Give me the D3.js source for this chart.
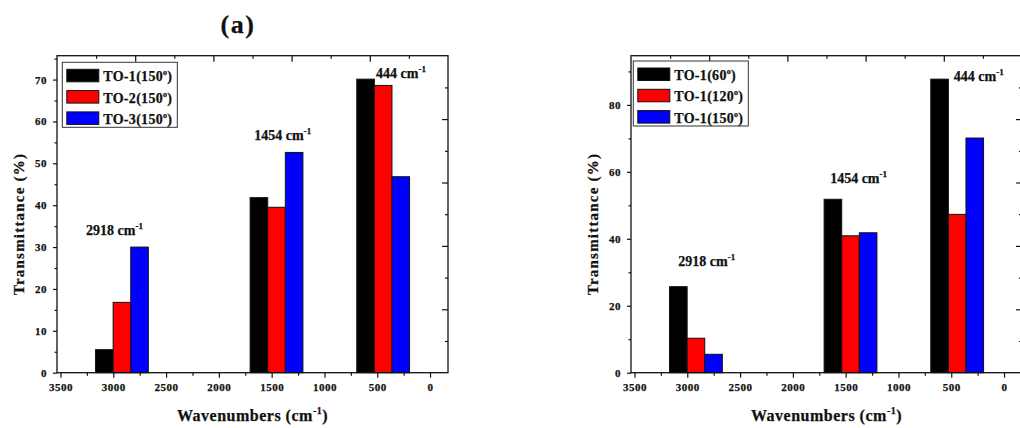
<!DOCTYPE html>
<html>
<head>
<meta charset="utf-8">
<script src="https://cdn.jsdelivr.net/npm/d3@7"></script>
<style>
  body { margin: 0; background: #fff; }
  svg text { font-family: "Liberation Serif", "Times New Roman", serif; font-weight: bold; fill: #111; stroke: #111; stroke-width: 0.25px; }
</style>
</head>
<body>
<svg id="fig" width="1020" height="428"></svg>
<script>
// peak positions (cm-1) and tick values
const wavenumbers = [2918, 1454, 444];
const peakLabels = ["2918", "1454", "444"];
const xTicks = [3500, 3000, 2500, 2000, 1500, 1000, 500, 0];
const xMinor = [3250, 2750, 2250, 1750, 1250, 750, 250];

// panel (a): samples at 150 deg
const seriesA = ["TO-1(150°)", "TO-2(150°)", "TO-3(150°)"];
const valuesA = [
  [5.5, 41.8, 70.1],
  [16.8, 39.5, 68.6],
  [30.0, 52.6, 46.8]
];
const yTicksA = [0, 10, 20, 30, 40, 50, 60, 70];
const yMinorA = [5, 15, 25, 35, 45, 55, 65, 75];

// panel (b): TO-1 at different angles
const seriesB = ["TO-1(60°)", "TO-1(120°)", "TO-1(150°)"];
const valuesB = [
  [25.7, 51.8, 87.7],
  [10.3, 40.9, 47.3],
  [5.5, 41.8, 70.1]
];
const yTicksB = [0, 20, 40, 60, 80];
const yMinorB = [10, 30, 50, 70, 90];

const colors = ["#000000", "#ff0000", "#0000ff"];

const svg = d3.select("#fig");

// "(a)" heading
svg.append("text")
  .attr("x", 238).attr("y", 33)
  .attr("text-anchor", "middle")
  .style("font-size", "26px")
  .style("letter-spacing", "1.5px")
  .text("(a)");

// text with degree shown as superscript o
function degreeText(sel, name) {
  const parts = name.split("°");
  sel.append("tspan").text(parts[0]);
  sel.append("tspan").attr("dy", -6).style("font-size", "8px").text("o");
  sel.append("tspan").attr("dy", 6).text(parts[1]);
}

function drawPanel(cfg) {
  const g = svg.append("g");
  const x = d3.scaleLinear().domain([3533, -170]).range([cfg.x0, cfg.x1]);
  const y = d3.scaleLinear().domain([0, cfg.ymax]).range([cfg.y1, cfg.y0]);
  const barW = 500 / 3; // width of one bar in cm-1

  // bars
  cfg.values.forEach((vals, s) => {
    g.selectAll(null)
      .data(vals)
      .enter().append("rect")
      .attr("x", (d, i) => x(wavenumbers[i] + barW * 1.5 - barW * s))
      .attr("width", x(0) - x(barW))
      .attr("y", d => y(d))
      .attr("height", d => y(0) - y(d))
      .attr("fill", colors[s])
      .attr("stroke", "#111")
      .attr("stroke-width", 1);
  });

  // bottom axis
  g.append("g").attr("transform", `translate(0,${cfg.y1})`)
    .call(d3.axisBottom(x).tickValues(xTicks).tickSize(5).tickPadding(6).tickFormat(d3.format("d")));
  g.append("g").attr("transform", `translate(0,${cfg.y1})`)
    .call(d3.axisBottom(x).tickValues(xMinor).tickSize(3).tickFormat(""));

  // left axis
  g.append("g").attr("transform", `translate(${cfg.x0},0)`)
    .call(d3.axisLeft(y).tickValues(cfg.yTicks).tickSize(4).tickPadding(6).tickFormat(d3.format("d")));
  g.append("g").attr("transform", `translate(${cfg.x0},0)`)
    .call(d3.axisLeft(y).tickValues(cfg.yMinor.filter(v => v <= cfg.ymax)).tickSize(2.5).tickFormat(""));

  // top and right axes (inward ticks, no labels)
  const xs = d3.scaleLinear().domain([0, 1]).range([cfg.x0, cfg.x1]);
  const ys = d3.scaleLinear().domain([0, 1]).range([cfg.y1, cfg.y0]);
  g.append("g").attr("transform", `translate(0,${cfg.y0})`)
    .call(d3.axisBottom(xs).tickValues([0.2, 0.4, 0.6, 0.8]).tickSize(6).tickFormat(""));
  g.append("g").attr("transform", `translate(0,${cfg.y0})`)
    .call(d3.axisBottom(xs).tickValues([0.1, 0.3, 0.5, 0.7, 0.9]).tickSize(3).tickFormat(""));
  g.append("g").attr("transform", `translate(${cfg.x1},0)`)
    .call(d3.axisLeft(ys).tickValues([0.2, 0.4, 0.6, 0.8]).tickSize(6).tickFormat(""));
  g.append("g").attr("transform", `translate(${cfg.x1},0)`)
    .call(d3.axisLeft(ys).tickValues([0.1, 0.3, 0.5, 0.7, 0.9]).tickSize(3).tickFormat(""));

  g.selectAll(".domain").remove();
  g.selectAll(".tick line").attr("stroke", "#111").attr("stroke-width", 1.2);
  g.selectAll(".tick text")
    .style("font-size", "11px")
    .style("letter-spacing", "0.5px")
    .style("font-family", "'Liberation Serif', serif")
    .style("font-weight", "bold")
    .attr("fill", "#111");

  // frame
  g.append("rect")
    .attr("x", cfg.x0).attr("y", cfg.y0)
    .attr("width", cfg.x1 - cfg.x0).attr("height", cfg.y1 - cfg.y0)
    .attr("fill", "none").attr("stroke", "#111").attr("stroke-width", 1.3);

  // peak annotations
  cfg.annot.forEach((a, i) => {
    const t = g.append("text")
      .attr("x", x(a[0])).attr("y", y(a[1]))
      .style("font-size", "14px");
    t.append("tspan").text(peakLabels[i] + " cm");
    t.append("tspan").attr("dy", -6).style("font-size", "9px").text("-1");
  });

  // legend
  const lg = g.append("g").attr("transform", `translate(${cfg.legX},${cfg.legY})`);
  lg.append("rect")
    .attr("width", 115).attr("height", 65)
    .attr("fill", "#fff").attr("stroke", "#333").attr("stroke-width", 1);
  cfg.series.forEach((name, s) => {
    lg.append("rect")
      .attr("x", 4.5).attr("y", 7 + s * 21.3)
      .attr("width", 32).attr("height", 12.5)
      .attr("fill", colors[s]).attr("stroke", "#111").attr("stroke-width", 1);
    const t = lg.append("text")
      .attr("x", 41).attr("y", 19 + s * 21.3)
      .style("font-size", "14px")
      .style("letter-spacing", "0.3px");
    degreeText(t, name);
  });

  // axis titles
  const cx = (cfg.x0 + cfg.x1) / 2;
  const xt = g.append("text")
    .attr("x", cx).attr("y", 421)
    .attr("text-anchor", "middle")
    .style("font-size", "16px")
    .style("letter-spacing", "0.5px");
  xt.append("tspan").text("Wavenumbers (cm");
  xt.append("tspan").attr("dy", -7).style("font-size", "10px").text("-1");
  xt.append("tspan").attr("dy", 7).text(")");

  g.append("text")
    .attr("transform", `translate(${cfg.x0 - 33},224) rotate(-90)`)
    .attr("text-anchor", "middle")
    .style("font-size", "15px")
    .style("letter-spacing", "1.2px")
    .text("Transmittance (%)");
}

drawPanel({
  x0: 57, x1: 448, y0: 55.7, y1: 372.7, ymax: 75.7,
  values: valuesA, series: seriesA, yTicks: yTicksA, yMinor: yMinorA,
  annot: [[3258, 32.9], [1664, 55.6], [511, 70.3]],
  legX: 62.3, legY: 62.3
});

drawPanel({
  x0: 631, x1: 1022, y0: 55.7, y1: 372.7, ymax: 94.7,
  values: valuesB, series: seriesB, yTicks: yTicksB, yMinor: yMinorB,
  annot: [[3085, 31.9], [1647, 56.6], [476, 87.2]],
  legX: 633.3, legY: 61
});
</script>
</body>
</html>
